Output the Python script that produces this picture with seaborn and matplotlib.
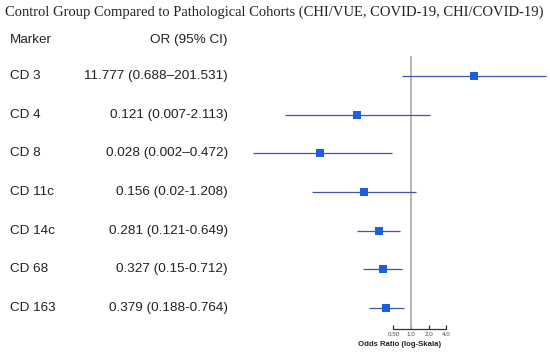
import numpy as np
import pandas as pd
import seaborn as sns
import matplotlib.pyplot as plt
from matplotlib.ticker import FixedLocator, NullLocator

sns.set_style("white")
plt.rcParams['font.family'] = ['Liberation Sans', 'DejaVu Sans']

# data
markers = ['CD 3', 'CD 4', 'CD 8', 'CD 11c', 'CD 14c', 'CD 68', 'CD 163']
odds = [11.777, 0.121, 0.028, 0.156, 0.281, 0.327, 0.379]
lower = [0.688, 0.007, 0.002, 0.02, 0.121, 0.15, 0.188]
upper = [201.531, 2.113, 0.472, 1.208, 0.649, 0.712, 0.764]
ci_text = ['11.777 (0.688\u2013201.531)', '0.121 (0.007-2.113)', '0.028 (0.002\u20130.472)',
           '0.156 (0.02-1.208)', '0.281 (0.121-0.649)', '0.327 (0.15-0.712)',
           '0.379 (0.188-0.764)']
ticks = [0.5, 1.0, 2.0, 4.0]
tick_labels = ['0.50', '1.0', '2.0', '4.0']

df = pd.DataFrame({'marker': markers, 'OR': odds, 'lo': lower, 'hi': upper})
df['row'] = np.arange(len(df))

W, H = 550, 354
fig = plt.figure(figsize=(W / 100, H / 100), dpi=100)

# forest panel, placed in pixel units
px_per_doubling = 17.6
x_one = 411
left_px, right_px = 240, 550
top_px, bottom_px = 56, 329
ax = fig.add_axes([left_px / W, 1 - bottom_px / H, (right_px - left_px) / W, (bottom_px - top_px) / H])
ax.set_xscale('log', base=2)
ax.set_xlim(2 ** ((left_px - x_one) / px_per_doubling), 2 ** ((right_px - x_one) / px_per_doubling))
row_step = 38.67
row0 = 76
ax.set_ylim((bottom_px - row0) / row_step, (top_px - row0) / row_step)

ax.axvline(1, color='#b5b5b5', lw=1.4, zorder=1)
ax.hlines(df['row'], df['lo'], df['hi'], color='#3f55b0', lw=0.9, zorder=2)
sns.scatterplot(data=df, x='OR', y='row', marker='s', s=34, color='#1c5fe3',
                edgecolor='none', ax=ax, zorder=3, legend=False)

for side in ['top', 'right', 'left']:
    ax.spines[side].set_visible(False)
ax.spines['bottom'].set_bounds(ticks[0], ticks[-1])
ax.spines['bottom'].set_color('#333333')
ax.spines['bottom'].set_linewidth(0.9)
ax.xaxis.set_major_locator(FixedLocator(ticks))
ax.xaxis.set_minor_locator(NullLocator())
ax.set_xticklabels(tick_labels)
ax.tick_params(axis='x', direction='in', length=3, width=0.9, color='#333333',
               labelsize=4.5, pad=2, labelcolor='#444444', bottom=True)
ax.set_yticks([])
ax.set_xlabel('')
ax.set_ylabel('')
ax.patch.set_alpha(0)

fig.text(400 / W, 1 - 344 / H, 'Odds Ratio (log-Skala)', fontsize=5.6, fontweight='bold',
         ha='center', va='center', color='#222222')

# title and table
fig.text(5 / W, 1 - 12 / H, 'Control Group Compared to Pathological Cohorts (CHI/VUE, COVID-19, CHI/COVID-19)',
         family=['Liberation Serif', 'DejaVu Serif'], fontsize=10.5, ha='left', va='center', color='#222222')
fig.text(10 / W, 1 - 40 / H, 'Marker', fontsize=9.7, ha='left', va='center', color='#222222')
fig.text(228 / W, 1 - 40 / H, 'OR (95% CI)', fontsize=9.7, ha='right', va='center', color='#222222')
for i, (m, t) in enumerate(zip(markers, ci_text)):
    y = 1 - (row0 + i * row_step) / H
    fig.text(10 / W, y, m, fontsize=9.7, ha='left', va='center', color='#222222')
    fig.text(228 / W, y, t, fontsize=9.7, ha='right', va='center', color='#222222')

fig.savefig('out.png', dpi=100)
